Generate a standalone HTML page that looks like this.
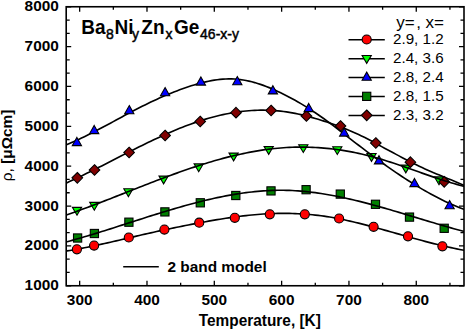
<!DOCTYPE html>
<html><head><meta charset="utf-8"><style>
html,body{margin:0;padding:0;background:#fff;overflow:hidden}
svg{display:block}
text{font-family:"Liberation Sans",sans-serif;fill:#000}
.ax{font-weight:bold;font-size:15.4px}
.lg{font-size:15.2px}
.lh{font-size:17px}
.ti{font-weight:bold;font-size:19px}
.sb{font-size:14px;font-weight:normal;stroke:#000;stroke-width:0.45px}
</style></head><body>
<svg width="466" height="330" viewBox="0 0 466 330">
<defs><clipPath id="c"><rect x="66.2" y="6.75" width="397.8" height="279.0"/></clipPath></defs>
<g clip-path="url(#c)"><path d="M64.20,251.39 L67.09,250.93 L69.97,250.46 L72.86,249.96 L75.75,249.45 L78.63,248.92 L81.52,248.38 L84.40,247.81 L87.29,247.24 L90.18,246.65 L93.06,246.04 L95.95,245.43 L98.84,244.81 L101.72,244.17 L104.61,243.53 L107.49,242.88 L110.38,242.22 L113.27,241.56 L116.15,240.89 L119.04,240.21 L121.93,239.54 L124.81,238.86 L127.70,238.18 L130.59,237.51 L133.47,236.83 L136.36,236.15 L139.24,235.48 L142.13,234.81 L145.02,234.15 L147.90,233.49 L150.79,232.84 L153.68,232.20 L156.56,231.56 L159.45,230.93 L162.34,230.30 L165.22,229.68 L168.11,229.07 L170.99,228.47 L173.88,227.87 L176.77,227.27 L179.65,226.69 L182.54,226.11 L185.43,225.53 L188.31,224.97 L191.20,224.40 L194.08,223.85 L196.97,223.30 L199.86,222.76 L202.74,222.23 L205.63,221.70 L208.52,221.18 L211.40,220.67 L214.29,220.17 L217.18,219.68 L220.06,219.20 L222.95,218.74 L225.83,218.29 L228.72,217.85 L231.61,217.43 L234.49,217.03 L237.38,216.64 L240.27,216.27 L243.15,215.92 L246.04,215.59 L248.93,215.27 L251.81,214.98 L254.70,214.72 L257.58,214.47 L260.47,214.25 L263.36,214.05 L266.24,213.88 L269.13,213.73 L272.02,213.61 L274.90,213.51 L277.79,213.44 L280.67,213.40 L283.56,213.38 L286.45,213.39 L289.33,213.43 L292.22,213.49 L295.11,213.59 L297.99,213.71 L300.88,213.86 L303.77,214.04 L306.65,214.25 L309.54,214.49 L312.42,214.76 L315.31,215.07 L318.20,215.40 L321.08,215.77 L323.97,216.17 L326.86,216.60 L329.74,217.06 L332.63,217.56 L335.52,218.08 L338.40,218.63 L341.29,219.21 L344.17,219.81 L347.06,220.44 L349.95,221.09 L352.83,221.76 L355.72,222.45 L358.61,223.16 L361.49,223.88 L364.38,224.62 L367.26,225.38 L370.15,226.14 L373.04,226.91 L375.92,227.70 L378.81,228.49 L381.70,229.29 L384.58,230.09 L387.47,230.90 L390.36,231.71 L393.24,232.52 L396.13,233.34 L399.01,234.15 L401.90,234.97 L404.79,235.78 L407.67,236.59 L410.56,237.40 L413.45,238.20 L416.33,238.99 L419.22,239.78 L422.11,240.56 L424.99,241.33 L427.88,242.09 L430.76,242.84 L433.65,243.58 L436.54,244.30 L439.42,245.01 L442.31,245.70 L445.20,246.37 L448.08,247.03 L450.97,247.67 L453.85,248.29 L456.74,248.89 L459.63,249.46 L462.51,250.01 L465.40,250.54" fill="none" stroke="#000" stroke-width="1.65"/><circle cx="76.9" cy="249.3" r="4.55" fill="#ff0000" stroke="#000" stroke-width="1.1"/><circle cx="94.1" cy="245.6" r="4.55" fill="#ff0000" stroke="#000" stroke-width="1.1"/><circle cx="128.8" cy="237.5" r="4.55" fill="#ff0000" stroke="#000" stroke-width="1.1"/><circle cx="164.4" cy="229.6" r="4.55" fill="#ff0000" stroke="#000" stroke-width="1.1"/><circle cx="199.2" cy="222.7" r="4.55" fill="#ff0000" stroke="#000" stroke-width="1.1"/><circle cx="234.8" cy="217.8" r="4.55" fill="#ff0000" stroke="#000" stroke-width="1.1"/><circle cx="269.8" cy="214.3" r="4.55" fill="#ff0000" stroke="#000" stroke-width="1.1"/><circle cx="304.8" cy="214.3" r="4.55" fill="#ff0000" stroke="#000" stroke-width="1.1"/><circle cx="339.1" cy="218.5" r="4.55" fill="#ff0000" stroke="#000" stroke-width="1.1"/><circle cx="373.6" cy="226.8" r="4.55" fill="#ff0000" stroke="#000" stroke-width="1.1"/><circle cx="408.0" cy="236.3" r="4.55" fill="#ff0000" stroke="#000" stroke-width="1.1"/><circle cx="442.4" cy="246.3" r="4.55" fill="#ff0000" stroke="#000" stroke-width="1.1"/><polygon points="72.40,207.40 81.60,207.40 77.00,215.20" fill="#00ff00" stroke="#000" stroke-width="1.1"/><polygon points="89.70,202.40 98.90,202.40 94.30,210.20" fill="#00ff00" stroke="#000" stroke-width="1.1"/><polygon points="123.80,188.80 133.00,188.80 128.40,196.60" fill="#00ff00" stroke="#000" stroke-width="1.1"/><polygon points="159.00,176.10 168.20,176.10 163.60,183.90" fill="#00ff00" stroke="#000" stroke-width="1.1"/><polygon points="194.10,163.90 203.30,163.90 198.70,171.70" fill="#00ff00" stroke="#000" stroke-width="1.1"/><polygon points="229.00,153.10 238.20,153.10 233.60,160.90" fill="#00ff00" stroke="#000" stroke-width="1.1"/><polygon points="264.10,146.60 273.30,146.60 268.70,154.40" fill="#00ff00" stroke="#000" stroke-width="1.1"/><polygon points="298.70,144.70 307.90,144.70 303.30,152.50" fill="#00ff00" stroke="#000" stroke-width="1.1"/><polygon points="332.70,146.70 341.90,146.70 337.30,154.50" fill="#00ff00" stroke="#000" stroke-width="1.1"/><polygon points="366.90,153.50 376.10,153.50 371.50,161.30" fill="#00ff00" stroke="#000" stroke-width="1.1"/><polygon points="401.20,165.10 410.40,165.10 405.80,172.90" fill="#00ff00" stroke="#000" stroke-width="1.1"/><polygon points="434.40,176.90 443.60,176.90 439.00,184.70" fill="#00ff00" stroke="#000" stroke-width="1.1"/><rect x="73.50" y="233.90" width="8.2" height="8.2" fill="#008000" stroke="#000" stroke-width="1.1"/><rect x="90.30" y="229.40" width="8.2" height="8.2" fill="#008000" stroke="#000" stroke-width="1.1"/><rect x="124.80" y="218.10" width="8.2" height="8.2" fill="#008000" stroke="#000" stroke-width="1.1"/><rect x="160.80" y="207.80" width="8.2" height="8.2" fill="#008000" stroke="#000" stroke-width="1.1"/><rect x="196.20" y="198.70" width="8.2" height="8.2" fill="#008000" stroke="#000" stroke-width="1.1"/><rect x="231.70" y="191.40" width="8.2" height="8.2" fill="#008000" stroke="#000" stroke-width="1.1"/><rect x="266.90" y="186.80" width="8.2" height="8.2" fill="#008000" stroke="#000" stroke-width="1.1"/><rect x="302.00" y="185.60" width="8.2" height="8.2" fill="#008000" stroke="#000" stroke-width="1.1"/><rect x="336.20" y="190.00" width="8.2" height="8.2" fill="#008000" stroke="#000" stroke-width="1.1"/><rect x="371.40" y="200.20" width="8.2" height="8.2" fill="#008000" stroke="#000" stroke-width="1.1"/><rect x="405.40" y="213.00" width="8.2" height="8.2" fill="#008000" stroke="#000" stroke-width="1.1"/><rect x="440.10" y="224.20" width="8.2" height="8.2" fill="#008000" stroke="#000" stroke-width="1.1"/><path d="M64.20,242.48 L67.09,241.72 L69.97,240.93 L72.86,240.14 L75.75,239.33 L78.63,238.51 L81.52,237.67 L84.40,236.83 L87.29,235.98 L90.18,235.11 L93.06,234.24 L95.95,233.36 L98.84,232.47 L101.72,231.57 L104.61,230.67 L107.49,229.76 L110.38,228.85 L113.27,227.93 L116.15,227.01 L119.04,226.08 L121.93,225.16 L124.81,224.23 L127.70,223.30 L130.59,222.37 L133.47,221.44 L136.36,220.52 L139.24,219.59 L142.13,218.67 L145.02,217.74 L147.90,216.83 L150.79,215.91 L153.68,215.01 L156.56,214.11 L159.45,213.21 L162.34,212.32 L165.22,211.44 L168.11,210.57 L170.99,209.71 L173.88,208.85 L176.77,208.01 L179.65,207.18 L182.54,206.36 L185.43,205.55 L188.31,204.76 L191.20,203.97 L194.08,203.21 L196.97,202.46 L199.86,201.72 L202.74,201.00 L205.63,200.30 L208.52,199.62 L211.40,198.95 L214.29,198.31 L217.18,197.68 L220.06,197.07 L222.95,196.49 L225.83,195.93 L228.72,195.38 L231.61,194.87 L234.49,194.37 L237.38,193.91 L240.27,193.46 L243.15,193.04 L246.04,192.65 L248.93,192.29 L251.81,191.95 L254.70,191.64 L257.58,191.37 L260.47,191.12 L263.36,190.90 L266.24,190.71 L269.13,190.56 L272.02,190.43 L274.90,190.35 L277.79,190.29 L280.67,190.27 L283.56,190.28 L286.45,190.33 L289.33,190.42 L292.22,190.54 L295.11,190.70 L297.99,190.89 L300.88,191.11 L303.77,191.36 L306.65,191.65 L309.54,191.96 L312.42,192.31 L315.31,192.68 L318.20,193.08 L321.08,193.51 L323.97,193.96 L326.86,194.44 L329.74,194.95 L332.63,195.48 L335.52,196.03 L338.40,196.60 L341.29,197.20 L344.17,197.81 L347.06,198.45 L349.95,199.10 L352.83,199.78 L355.72,200.47 L358.61,201.17 L361.49,201.90 L364.38,202.64 L367.26,203.39 L370.15,204.16 L373.04,204.94 L375.92,205.73 L378.81,206.53 L381.70,207.34 L384.58,208.16 L387.47,208.99 L390.36,209.83 L393.24,210.68 L396.13,211.53 L399.01,212.39 L401.90,213.25 L404.79,214.12 L407.67,214.99 L410.56,215.86 L413.45,216.73 L416.33,217.61 L419.22,218.48 L422.11,219.35 L424.99,220.23 L427.88,221.10 L430.76,221.96 L433.65,222.82 L436.54,223.68 L439.42,224.53 L442.31,225.38 L445.20,226.22 L448.08,227.05 L450.97,227.87 L453.85,228.68 L456.74,229.48 L459.63,230.27 L462.51,231.05 L465.40,231.81" fill="none" stroke="#000" stroke-width="1.65"/><path d="M64.20,183.93 L67.09,182.64 L69.97,181.33 L72.86,180.00 L75.75,178.66 L78.63,177.29 L81.52,175.91 L84.40,174.52 L87.29,173.11 L90.18,171.69 L93.06,170.25 L95.95,168.81 L98.84,167.36 L101.72,165.90 L104.61,164.44 L107.49,162.97 L110.38,161.50 L113.27,160.02 L116.15,158.55 L119.04,157.07 L121.93,155.60 L124.81,154.12 L127.70,152.66 L130.59,151.19 L133.47,149.74 L136.36,148.29 L139.24,146.85 L142.13,145.42 L145.02,144.00 L147.90,142.60 L150.79,141.21 L153.68,139.83 L156.56,138.47 L159.45,137.13 L162.34,135.81 L165.22,134.51 L168.11,133.23 L170.99,131.97 L173.88,130.73 L176.77,129.53 L179.65,128.35 L182.54,127.19 L185.43,126.07 L188.31,124.97 L191.20,123.91 L194.08,122.88 L196.97,121.89 L199.86,120.93 L202.74,120.00 L205.63,119.12 L208.52,118.27 L211.40,117.46 L214.29,116.69 L217.18,115.96 L220.06,115.27 L222.95,114.62 L225.83,114.01 L228.72,113.45 L231.61,112.93 L234.49,112.45 L237.38,112.01 L240.27,111.62 L243.15,111.27 L246.04,110.97 L248.93,110.72 L251.81,110.51 L254.70,110.36 L257.58,110.24 L260.47,110.18 L263.36,110.17 L266.24,110.21 L269.13,110.29 L272.02,110.43 L274.90,110.62 L277.79,110.86 L280.67,111.16 L283.56,111.51 L286.45,111.91 L289.33,112.37 L292.22,112.87 L295.11,113.43 L297.99,114.03 L300.88,114.67 L303.77,115.35 L306.65,116.08 L309.54,116.84 L312.42,117.63 L315.31,118.45 L318.20,119.30 L321.08,120.18 L323.97,121.10 L326.86,122.04 L329.74,123.01 L332.63,124.01 L335.52,125.05 L338.40,126.11 L341.29,127.22 L344.17,128.35 L347.06,129.53 L349.95,130.74 L352.83,131.98 L355.72,133.27 L358.61,134.59 L361.49,135.96 L364.38,137.36 L367.26,138.80 L370.15,140.29 L373.04,141.82 L375.92,143.39 L378.81,145.00 L381.70,146.60 L384.58,148.19 L387.47,149.75 L390.36,151.30 L393.24,152.83 L396.13,154.36 L399.01,155.88 L401.90,157.40 L404.79,158.92 L407.67,160.44 L410.56,161.95 L413.45,163.42 L416.33,164.84 L419.22,166.23 L422.11,167.57 L424.99,168.89 L427.88,170.17 L430.76,171.43 L433.65,172.67 L436.54,173.89 L439.42,175.10 L442.31,176.29 L445.20,177.48 L448.08,178.66 L450.97,179.85 L453.85,181.04 L456.74,182.23 L459.63,183.44 L462.51,184.66 L465.40,185.89" fill="none" stroke="#000" stroke-width="1.65"/><polygon points="77.3,172.5 82.6,177.8 77.3,183.10000000000002 72.0,177.8" fill="#800000" stroke="#000" stroke-width="1.1"/><polygon points="94.5,164.7 99.8,170.0 94.5,175.3 89.2,170.0" fill="#800000" stroke="#000" stroke-width="1.1"/><polygon points="129.1,147.2 134.4,152.5 129.1,157.8 123.8,152.5" fill="#800000" stroke="#000" stroke-width="1.1"/><polygon points="165.1,130.2 170.4,135.5 165.1,140.8 159.79999999999998,135.5" fill="#800000" stroke="#000" stroke-width="1.1"/><polygon points="200.2,116.2 205.5,121.5 200.2,126.8 194.89999999999998,121.5" fill="#800000" stroke="#000" stroke-width="1.1"/><polygon points="236.0,107.4 241.3,112.7 236.0,118.0 230.7,112.7" fill="#800000" stroke="#000" stroke-width="1.1"/><polygon points="271.1,105.2 276.40000000000003,110.5 271.1,115.8 265.8,110.5" fill="#800000" stroke="#000" stroke-width="1.1"/><polygon points="306.4,110.7 311.7,116.0 306.4,121.3 301.09999999999997,116.0" fill="#800000" stroke="#000" stroke-width="1.1"/><polygon points="340.5,120.7 345.8,126.0 340.5,131.3 335.2,126.0" fill="#800000" stroke="#000" stroke-width="1.1"/><polygon points="375.8,137.7 381.1,143.0 375.8,148.3 370.5,143.0" fill="#800000" stroke="#000" stroke-width="1.1"/><polygon points="410.4,156.89999999999998 415.7,162.2 410.4,167.5 405.09999999999997,162.2" fill="#800000" stroke="#000" stroke-width="1.1"/><polygon points="444.2,176.5 449.5,181.8 444.2,187.10000000000002 438.9,181.8" fill="#800000" stroke="#000" stroke-width="1.1"/><path d="M64.20,145.53 L67.09,144.40 L69.97,143.22 L72.86,141.99 L75.75,140.72 L78.63,139.41 L81.52,138.06 L84.40,136.67 L87.29,135.26 L90.18,133.82 L93.06,132.35 L95.95,130.86 L98.84,129.35 L101.72,127.82 L104.61,126.28 L107.49,124.73 L110.38,123.17 L113.27,121.60 L116.15,120.03 L119.04,118.47 L121.93,116.91 L124.81,115.35 L127.70,113.81 L130.59,112.28 L133.47,110.76 L136.36,109.26 L139.24,107.79 L142.13,106.33 L145.02,104.90 L147.90,103.49 L150.79,102.11 L153.68,100.75 L156.56,99.42 L159.45,98.11 L162.34,96.84 L165.22,95.59 L168.11,94.37 L170.99,93.18 L173.88,92.03 L176.77,90.91 L179.65,89.82 L182.54,88.76 L185.43,87.75 L188.31,86.76 L191.20,85.82 L194.08,84.92 L196.97,84.07 L199.86,83.27 L202.74,82.53 L205.63,81.84 L208.52,81.22 L211.40,80.66 L214.29,80.17 L217.18,79.76 L220.06,79.42 L222.95,79.17 L225.83,79.00 L228.72,78.92 L231.61,78.94 L234.49,79.05 L237.38,79.26 L240.27,79.58 L243.15,80.00 L246.04,80.51 L248.93,81.11 L251.81,81.81 L254.70,82.58 L257.58,83.44 L260.47,84.38 L263.36,85.39 L266.24,86.47 L269.13,87.62 L272.02,88.82 L274.90,90.09 L277.79,91.41 L280.67,92.78 L283.56,94.20 L286.45,95.66 L289.33,97.17 L292.22,98.72 L295.11,100.31 L297.99,101.95 L300.88,103.63 L303.77,105.36 L306.65,107.14 L309.54,108.97 L312.42,110.84 L315.31,112.75 L318.20,114.72 L321.08,116.73 L323.97,118.78 L326.86,120.88 L329.74,123.03 L332.63,125.20 L335.52,127.41 L338.40,129.64 L341.29,131.88 L344.17,134.12 L347.06,136.36 L349.95,138.59 L352.83,140.82 L355.72,143.05 L358.61,145.26 L361.49,147.46 L364.38,149.66 L367.26,151.83 L370.15,153.99 L373.04,156.14 L375.92,158.27 L378.81,160.38 L381.70,162.47 L384.58,164.54 L387.47,166.58 L390.36,168.61 L393.24,170.61 L396.13,172.59 L399.01,174.54 L401.90,176.46 L404.79,178.36 L407.67,180.23 L410.56,182.06 L413.45,183.87 L416.33,185.65 L419.22,187.39 L422.11,189.09 L424.99,190.77 L427.88,192.40 L430.76,194.00 L433.65,195.56 L436.54,197.08 L439.42,198.56 L442.31,200.00 L445.20,201.40 L448.08,202.75 L450.97,204.06 L453.85,205.32 L456.74,206.54 L459.63,207.71 L462.51,208.83 L465.40,209.90" fill="none" stroke="#000" stroke-width="1.65"/><polygon points="76.90,137.40 81.50,145.60 72.30,145.60" fill="#0000ff" stroke="#000" stroke-width="1.1"/><polygon points="94.20,125.40 98.80,133.60 89.60,133.60" fill="#0000ff" stroke="#000" stroke-width="1.1"/><polygon points="129.30,105.50 133.90,113.70 124.70,113.70" fill="#0000ff" stroke="#000" stroke-width="1.1"/><polygon points="165.10,87.60 169.70,95.80 160.50,95.80" fill="#0000ff" stroke="#000" stroke-width="1.1"/><polygon points="200.90,76.90 205.50,85.10 196.30,85.10" fill="#0000ff" stroke="#000" stroke-width="1.1"/><polygon points="237.30,76.50 241.90,84.70 232.70,84.70" fill="#0000ff" stroke="#000" stroke-width="1.1"/><polygon points="272.90,85.70 277.50,93.90 268.30,93.90" fill="#0000ff" stroke="#000" stroke-width="1.1"/><polygon points="308.70,103.40 313.30,111.60 304.10,111.60" fill="#0000ff" stroke="#000" stroke-width="1.1"/><polygon points="344.20,127.90 348.80,136.10 339.60,136.10" fill="#0000ff" stroke="#000" stroke-width="1.1"/><polygon points="379.00,155.70 383.60,163.90 374.40,163.90" fill="#0000ff" stroke="#000" stroke-width="1.1"/><polygon points="414.50,178.40 419.10,186.60 409.90,186.60" fill="#0000ff" stroke="#000" stroke-width="1.1"/><polygon points="449.60,200.50 454.20,208.70 445.00,208.70" fill="#0000ff" stroke="#000" stroke-width="1.1"/><path d="M64.20,215.67 L67.09,214.69 L69.97,213.69 L72.86,212.69 L75.75,211.66 L78.63,210.63 L81.52,209.58 L84.40,208.53 L87.29,207.46 L90.18,206.38 L93.06,205.30 L95.95,204.21 L98.84,203.11 L101.72,202.00 L104.61,200.89 L107.49,199.77 L110.38,198.65 L113.27,197.52 L116.15,196.39 L119.04,195.26 L121.93,194.12 L124.81,192.98 L127.70,191.85 L130.59,190.71 L133.47,189.58 L136.36,188.44 L139.24,187.31 L142.13,186.18 L145.02,185.05 L147.90,183.93 L150.79,182.82 L153.68,181.70 L156.56,180.60 L159.45,179.50 L162.34,178.41 L165.22,177.33 L168.11,176.26 L170.99,175.19 L173.88,174.14 L176.77,173.10 L179.65,172.06 L182.54,171.05 L185.43,170.04 L188.31,169.05 L191.20,168.07 L194.08,167.11 L196.97,166.16 L199.86,165.23 L202.74,164.32 L205.63,163.42 L208.52,162.54 L211.40,161.68 L214.29,160.83 L217.18,160.01 L220.06,159.21 L222.95,158.42 L225.83,157.66 L228.72,156.92 L231.61,156.20 L234.49,155.51 L237.38,154.84 L240.27,154.19 L243.15,153.57 L246.04,152.97 L248.93,152.39 L251.81,151.85 L254.70,151.33 L257.58,150.84 L260.47,150.37 L263.36,149.93 L266.24,149.53 L269.13,149.15 L272.02,148.80 L274.90,148.48 L277.79,148.20 L280.67,147.95 L283.56,147.72 L286.45,147.54 L289.33,147.38 L292.22,147.26 L295.11,147.17 L297.99,147.12 L300.88,147.10 L303.77,147.11 L306.65,147.15 L309.54,147.23 L312.42,147.34 L315.31,147.48 L318.20,147.66 L321.08,147.86 L323.97,148.10 L326.86,148.37 L329.74,148.67 L332.63,149.00 L335.52,149.36 L338.40,149.76 L341.29,150.18 L344.17,150.63 L347.06,151.12 L349.95,151.64 L352.83,152.18 L355.72,152.76 L358.61,153.38 L361.49,154.02 L364.38,154.70 L367.26,155.41 L370.15,156.15 L373.04,156.92 L375.92,157.73 L378.81,158.56 L381.70,159.41 L384.58,160.30 L387.47,161.20 L390.36,162.13 L393.24,163.07 L396.13,164.03 L399.01,165.01 L401.90,166.00 L404.79,167.00 L407.67,168.01 L410.56,169.02 L413.45,170.04 L416.33,171.06 L419.22,172.08 L422.11,173.10 L424.99,174.11 L427.88,175.12 L430.76,176.12 L433.65,177.11 L436.54,178.08 L439.42,179.04 L442.31,179.99 L445.20,180.92 L448.08,181.82 L450.97,182.71 L453.85,183.56 L456.74,184.40 L459.63,185.20 L462.51,185.97 L465.40,186.71" fill="none" stroke="#000" stroke-width="1.65"/></g>
<path d="M79.66,285.75 v-5 M79.66,6.75 v5 M146.99,285.75 v-5 M146.99,6.75 v5 M214.31,285.75 v-5 M214.31,6.75 v5 M281.63,285.75 v-5 M281.63,6.75 v5 M348.95,285.75 v-5 M348.95,6.75 v5 M416.27,285.75 v-5 M416.27,6.75 v5 M113.33,285.75 v-3 M113.33,6.75 v3 M180.65,285.75 v-3 M180.65,6.75 v3 M247.97,285.75 v-3 M247.97,6.75 v3 M315.29,285.75 v-3 M315.29,6.75 v3 M382.61,285.75 v-3 M382.61,6.75 v3 M449.94,285.75 v-3 M449.94,6.75 v3 M66.2,285.75 h5 M464.0,285.75 h-5 M66.2,245.89 h5 M464.0,245.89 h-5 M66.2,206.04 h5 M464.0,206.04 h-5 M66.2,166.18 h5 M464.0,166.18 h-5 M66.2,126.32 h5 M464.0,126.32 h-5 M66.2,86.46 h5 M464.0,86.46 h-5 M66.2,46.61 h5 M464.0,46.61 h-5 M66.2,6.75 h5 M464.0,6.75 h-5 M66.2,272.46 h3.5 M464.0,272.46 h-3.5 M66.2,259.18 h3.5 M464.0,259.18 h-3.5 M66.2,232.61 h3.5 M464.0,232.61 h-3.5 M66.2,219.32 h3.5 M464.0,219.32 h-3.5 M66.2,192.75 h3.5 M464.0,192.75 h-3.5 M66.2,179.46 h3.5 M464.0,179.46 h-3.5 M66.2,152.89 h3.5 M464.0,152.89 h-3.5 M66.2,139.61 h3.5 M464.0,139.61 h-3.5 M66.2,113.04 h3.5 M464.0,113.04 h-3.5 M66.2,99.75 h3.5 M464.0,99.75 h-3.5 M66.2,73.18 h3.5 M464.0,73.18 h-3.5 M66.2,59.89 h3.5 M464.0,59.89 h-3.5 M66.2,33.32 h3.5 M464.0,33.32 h-3.5 M66.2,20.04 h3.5 M464.0,20.04 h-3.5" stroke="#000" stroke-width="1.3" fill="none"/>
<rect x="66.2" y="6.75" width="397.80" height="279.0" fill="none" stroke="#000" stroke-width="1.6"/>
<path d="M348.5,39.70 H384.8" stroke="#000" stroke-width="1.5"/><circle cx="366.7" cy="39.5" r="4.55" fill="#ff0000" stroke="#000" stroke-width="1.1"/><text transform="translate(393.00,44.30) scale(1,0.99)" class="lg">2.9, 1.2</text><path d="M348.5,58.65 H384.8" stroke="#000" stroke-width="1.5"/><polygon points="362.10,55.55 371.30,55.55 366.70,63.35" fill="#00ff00" stroke="#000" stroke-width="1.1"/><text transform="translate(393.00,63.25) scale(1,0.99)" class="lg">2.4, 3.6</text><path d="M348.5,77.60 H384.8" stroke="#000" stroke-width="1.5"/><polygon points="366.70,72.10 371.30,80.30 362.10,80.30" fill="#0000ff" stroke="#000" stroke-width="1.1"/><text transform="translate(393.00,82.20) scale(1,0.99)" class="lg">2.8, 2.4</text><path d="M348.5,96.55 H384.8" stroke="#000" stroke-width="1.5"/><rect x="362.60" y="92.25" width="8.2" height="8.2" fill="#008000" stroke="#000" stroke-width="1.1"/><text transform="translate(393.00,101.15) scale(1,0.99)" class="lg">2.8, 1.5</text><path d="M348.5,115.50 H384.8" stroke="#000" stroke-width="1.5"/><polygon points="366.7,110.0 372.0,115.3 366.7,120.6 361.4,115.3" fill="#800000" stroke="#000" stroke-width="1.1"/><text transform="translate(393.00,120.10) scale(1,0.99)" class="lg">2.3, 3.2</text><text transform="translate(396.30,28.40) scale(1,1.0)" class="lh">y=&#8202;, x=</text><path d="M123.2,266.7 H158.8" stroke="#000" stroke-width="1.6"/><text transform="translate(167.50,271.70) scale(1,1.0)" class="ax">2 band model</text>
<text transform="translate(58.80,290.35) scale(1,0.97)" class="ax" text-anchor="end">1000</text><text transform="translate(58.80,250.49) scale(1,0.97)" class="ax" text-anchor="end">2000</text><text transform="translate(58.80,210.64) scale(1,0.97)" class="ax" text-anchor="end">3000</text><text transform="translate(58.80,170.78) scale(1,0.97)" class="ax" text-anchor="end">4000</text><text transform="translate(58.80,130.92) scale(1,0.97)" class="ax" text-anchor="end">5000</text><text transform="translate(58.80,91.06) scale(1,0.97)" class="ax" text-anchor="end">6000</text><text transform="translate(58.80,51.21) scale(1,0.97)" class="ax" text-anchor="end">7000</text><text transform="translate(58.80,11.35) scale(1,0.97)" class="ax" text-anchor="end">8000</text><text transform="translate(79.66,305.10) scale(1,0.98)" class="ax" text-anchor="middle">300</text><text transform="translate(146.99,305.10) scale(1,0.98)" class="ax" text-anchor="middle">400</text><text transform="translate(214.31,305.10) scale(1,0.98)" class="ax" text-anchor="middle">500</text><text transform="translate(281.63,305.10) scale(1,0.98)" class="ax" text-anchor="middle">600</text><text transform="translate(348.95,305.10) scale(1,0.98)" class="ax" text-anchor="middle">700</text><text transform="translate(416.27,305.10) scale(1,0.98)" class="ax" text-anchor="middle">800</text><text transform="translate(259.80,326.20) scale(1,1.02)" class="ax" text-anchor="middle">Temperature, [K]</text><text transform="translate(11.7,145.4) rotate(-90)" class="ax" text-anchor="middle"><tspan font-weight="normal">ρ,</tspan> [μΩcm]</text><text y="34" class="ti" transform="translate(0,34.3) scale(1,1.08) translate(0,-34)"><tspan x="81.3">Ba</tspan><tspan class="sb" x="106.1" y="38.4">8</tspan><tspan x="114.6" y="34">Ni</tspan><tspan class="sb" x="132" y="38.4">y</tspan><tspan x="141.3" y="34">Zn</tspan><tspan class="sb" x="165.5" y="38.4">x</tspan><tspan x="174" y="34">Ge</tspan><tspan class="sb" x="200.1" y="38.4">46-x-y</tspan></text>
</svg>
</body></html>
